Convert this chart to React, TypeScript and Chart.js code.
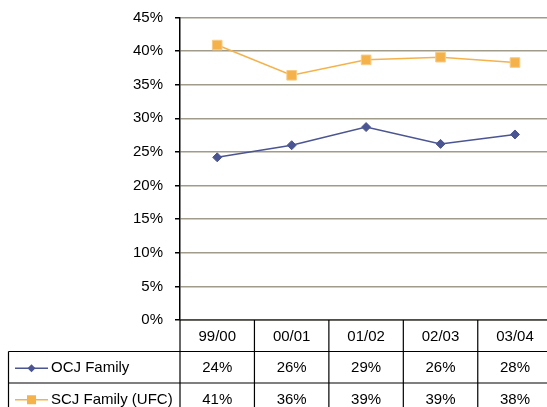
import React, { useEffect, useRef } from 'react';
import { Chart, registerables } from 'chart.js';

Chart.register(...registerables);

const categories: string[] = ['99/00', '00/01', '01/02', '02/03', '03/04'];
const ocjValues: number[] = [24.2, 26.0, 28.7, 26.2, 27.6];
const scjValues: number[] = [40.9, 36.4, 38.7, 39.1, 38.3];
const seriesNames: string[] = ['OCJ Family', 'SCJ Family (UFC)'];
const yTickValues: number[] = [0, 5, 10, 15, 20, 25, 30, 35, 40, 45];

const OCJ_COLOR = '#4A5592';
const SCJ_COLOR = '#F5B24A';
const FONT = '"Liberation Sans", Arial, sans-serif';

const tablePlugin = {
  id: 'dataTable',
  afterDraw(chart: any) {
    const { ctx, chartArea } = chart;
    const xs = chart.scales.x;
    const n = categories.length;
    const cw = (chartArea.right - chartArea.left) / n;
    const top = chartArea.bottom;
    const rowH = 31.5;
    const tableLeft = 8.5;
    const bottom = chart.height + 5;
    const rightEdge = chartArea.right;
    ctx.save();
    ctx.strokeStyle = '#000';
    ctx.lineWidth = 1.2;
    const hline = (x1: number, x2: number, y: number) => {
      ctx.beginPath();
      ctx.moveTo(x1, y);
      ctx.lineTo(x2, y);
      ctx.stroke();
    };
    const vline = (x: number, y1: number, y2: number) => {
      ctx.beginPath();
      ctx.moveTo(x, y1);
      ctx.lineTo(x, y2);
      ctx.stroke();
    };
    hline(chartArea.left, rightEdge, top);
    hline(tableLeft, rightEdge, top + rowH);
    hline(tableLeft, rightEdge, top + rowH * 2);
    vline(tableLeft, top + rowH, bottom);
    for (let k = 0; k <= n; k++) {
      vline(chartArea.left + k * cw, top, bottom);
    }
    ctx.fillStyle = '#000';
    ctx.font = `15px ${FONT}`;
    ctx.textAlign = 'center';
    ctx.textBaseline = 'middle';
    categories.forEach((c, i) => {
      const cx = xs.getPixelForValue(i);
      ctx.fillText(c, cx, top + rowH / 2 + 1);
      ctx.fillText(Math.round(ocjValues[i]) + '%', cx, top + rowH * 1.5 + 1);
      ctx.fillText(Math.round(scjValues[i]) + '%', cx, top + rowH * 2.5 + 1);
    });
    const keys = [
      { name: seriesNames[0], color: OCJ_COLOR, shape: 'diamond' },
      { name: seriesNames[1], color: SCJ_COLOR, shape: 'square' },
    ];
    keys.forEach((k, r) => {
      const cy = top + rowH * (1.5 + r) + 1;
      ctx.strokeStyle = k.color;
      ctx.lineWidth = 1.5;
      hline(15, 48, cy);
      ctx.fillStyle = k.color;
      ctx.beginPath();
      if (k.shape === 'diamond') {
        ctx.moveTo(31.5, cy - 4);
        ctx.lineTo(35.5, cy);
        ctx.lineTo(31.5, cy + 4);
        ctx.lineTo(27.5, cy);
        ctx.closePath();
      } else {
        ctx.rect(27, cy - 4.5, 9, 9);
      }
      ctx.fill();
      ctx.fillStyle = '#000';
      ctx.textAlign = 'left';
      ctx.fillText(k.name, 51, cy);
    });
    ctx.restore();
  },
};

export default function App() {
  const canvasRef = useRef<HTMLCanvasElement | null>(null);

  useEffect(() => {
    const canvas = canvasRef.current;
    if (!canvas) return;
    const chart = new Chart(canvas, {
      type: 'line',
      data: {
        labels: categories,
        datasets: [
          {
            label: seriesNames[0],
            data: ocjValues,
            borderColor: OCJ_COLOR,
            backgroundColor: OCJ_COLOR,
            borderWidth: 1.5,
            pointStyle: 'rectRot',
            pointRadius: 4.5,
            pointBorderWidth: 1,
            tension: 0,
          },
          {
            label: seriesNames[1],
            data: scjValues,
            borderColor: SCJ_COLOR,
            backgroundColor: SCJ_COLOR,
            borderWidth: 1.5,
            pointStyle: 'rect',
            pointRadius: 6.8,
            pointBorderWidth: 1,
            pointBorderColor: '#F8CB85',
            tension: 0,
          },
        ],
      },
      options: {
        responsive: false,
        animation: false,
        devicePixelRatio: 1,
        layout: { padding: { top: 17.5, right: 2, bottom: 87, left: 0 } },
        plugins: { legend: { display: false }, tooltip: { enabled: false } },
        scales: {
          x: { type: 'category', offset: true, display: false },
          y: {
            min: 0,
            max: 45,
            afterBuildTicks: (s: any) => {
              s.ticks = yTickValues.map((v) => ({ value: v }));
            },
            afterFit: (s: any) => {
              s.width = 180;
              s.paddingTop = 0;
              s.paddingBottom = 0;
            },
            ticks: {
              color: '#000',
              font: { family: FONT, size: 15 },
              padding: 12,
              callback: (v: any) => v + '%',
            },
            grid: {
              color: '#A19C8A',
              lineWidth: 1.5,
              tickColor: '#000',
              tickLength: 5,
            },
            border: { color: '#000', width: 1.5 },
          },
        },
      },
      plugins: [tablePlugin],
    } as any);
    return () => chart.destroy();
  }, []);

  return (
    <div style={{ position: 'fixed', left: 0, top: 0, width: 547, height: 407, overflow: 'hidden', background: '#fff' }}>
      <canvas ref={canvasRef} width={560} height={407} style={{ display: 'block' }} />
    </div>
  );
}
